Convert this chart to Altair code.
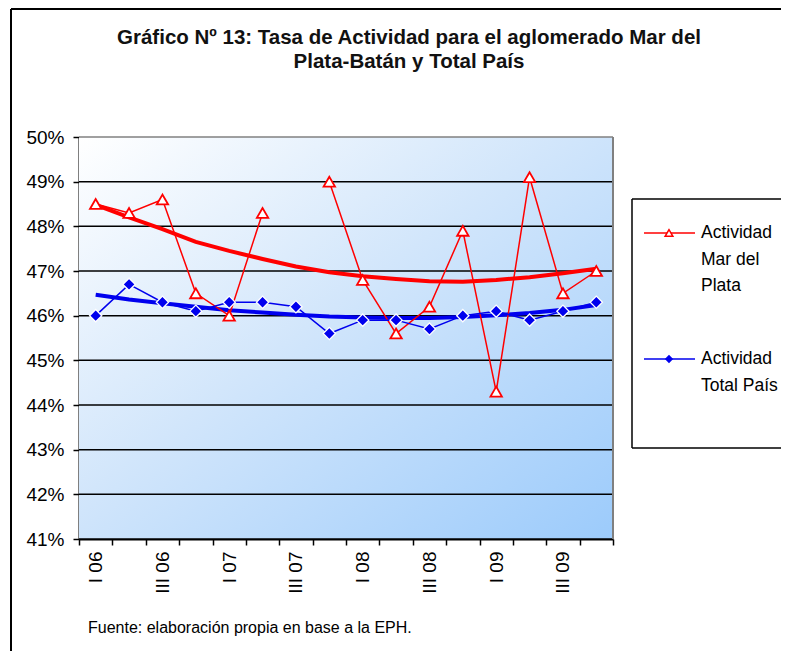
import altair as alt
import pandas as pd

# ---------------- data ----------------
quarters = ["I 06", "II 06", "III 06", "IV 06",
            "I 07", "II 07", "III 07", "IV 07",
            "I 08", "II 08", "III 08", "IV 08",
            "I 09", "II 09", "III 09", "IV 09"]
mdp = [48.5, 48.3, 48.6, 46.5, 46.0, 48.3, None, 49.0,
       46.8, 45.6, 46.2, 47.9, 44.3, 49.1, 46.5, 47.0]
pais = [46.0, 46.7, 46.3, 46.1, 46.3, 46.3, 46.2, 45.6,
        45.9, 45.9, 45.7, 46.0, 46.1, 45.9, 46.1, 46.3]
mdp_trend = [48.48, 48.20, 47.94, 47.65, 47.45, 47.27, 47.10, 46.97,
             46.88, 46.82, 46.77, 46.76, 46.80, 46.86, 46.95, 47.05]
pais_trend = [46.47, 46.36, 46.28, 46.20, 46.12, 46.07, 46.02, 45.98,
              45.96, 45.95, 45.95, 45.97, 46.01, 46.06, 46.13, 46.24]
y_ticks = [41, 42, 43, 44, 45, 46, 47, 48, 49, 50]

series_names = ["Actividad Mar del Plata", "Actividad Total País"]
title_lines = ["Gráfico Nº 13: Tasa de Actividad para el aglomerado Mar del",
               "Plata-Batán y Total País"]
legend_red = ["Actividad", "Mar del", "Plata"]
legend_blue = ["Actividad", "Total País"]
source_note = "Fuente: elaboración propia en base a la EPH."

# ---------------- tables ----------------
rows = []
seg = 0
for q, v in zip(quarters, mdp):
    if v is None:
        seg += 1
        continue
    rows.append({"q": q, "v": v, "s": series_names[0], "seg": seg})
for q, v in zip(quarters, pais):
    rows.append({"q": q, "v": v, "s": series_names[1], "seg": 0})
df = pd.DataFrame(rows)

trend = pd.DataFrame(
    [{"q": q, "v": v, "s": series_names[0]} for q, v in zip(quarters, mdp_trend)]
    + [{"q": q, "v": v, "s": series_names[1]} for q, v in zip(quarters, pais_trend)]
)
grid = pd.DataFrame({"v": y_ticks})
one = pd.DataFrame({"a": [0]})

W, H = 534, 402
FONT = "Liberation Sans"
RED = "#ff0000"
BLUE = "#0000ee"

color_scale = alt.Scale(domain=series_names, range=[RED, BLUE])
yscale = alt.Scale(domain=[41, 50], nice=False, zero=False)
xscale = alt.Scale(type="band", domain=quarters, paddingInner=0, paddingOuter=0)

x_enc = alt.X(
    "q:N", scale=xscale, bandPosition=0.5,
    axis=alt.Axis(
        title=None, labelAngle=270, labelAlign="right", labelBaseline="middle",
        labelFont=FONT, labelFontSize=19, labelColor="black", labelPadding=6,
        tickSize=6, tickColor="black", tickWidth=1.5, tickBand="extent",
        domainColor="black", domainWidth=2, grid=False,
        labelExpr="(indexof(datum.label, 'I ') == 0 || indexof(datum.label, 'III ') == 0) ? datum.label : ''",
    ),
)
y_enc = alt.Y(
    "v:Q", scale=yscale,
    axis=alt.Axis(
        title=None, values=y_ticks, labelExpr="datum.value + '%'",
        labelFont=FONT, labelFontSize=19, labelColor="black", labelPadding=9,
        tickSize=6, tickColor="black", tickWidth=1.5,
        domainColor="black", domainWidth=2, grid=False,
    ),
)

gradient = alt.LinearGradient(
    gradient="linear",
    stops=[alt.GradientStop(color="#ffffff", offset=0),
           alt.GradientStop(color="#d2e6fb", offset=0.45),
           alt.GradientStop(color="#9ccbfb", offset=1)],
    x1=0, y1=0, x2=1, y2=1,
)

bg = alt.Chart(one).mark_rect(fill=gradient).encode(
    x=alt.value(0), x2=alt.value(W), y=alt.value(0), y2=alt.value(H)
)

grid_rules = alt.Chart(grid).mark_rule(strokeWidth=1.5).encode(
    y=y_enc,
    color=alt.condition("datum.v == 50", alt.value("#808080"), alt.value("black")),
)

right_border = alt.Chart(one).mark_rule(color="#808080", strokeWidth=2).encode(
    x=alt.value(W), y=alt.value(0), y2=alt.value(H)
)

trend_lines = alt.Chart(trend).mark_line(strokeWidth=4).encode(
    x=x_enc, y=y_enc,
    color=alt.Color("s:N", scale=color_scale, legend=None),
)

data_lines = alt.Chart(df).mark_line(strokeWidth=1.5).encode(
    x=x_enc, y=y_enc,
    color=alt.Color("s:N", scale=color_scale, legend=None),
    detail="seg:N",
)

red_pts = alt.Chart(df).transform_filter(
    alt.datum.s == series_names[0]
).mark_point(shape="triangle-up", filled=True, fill="white", stroke=RED,
             strokeWidth=1.8, size=130, opacity=1).encode(x=x_enc, y=y_enc)

blue_pts = alt.Chart(df).transform_filter(
    alt.datum.s == series_names[1]
).mark_point(shape="diamond", filled=True, fill=BLUE, stroke="white",
             strokeWidth=1.3, size=150, opacity=1).encode(x=x_enc, y=y_enc)

# ---------------- decorations ----------------
def hrule(x1, x2, y, color="black", sw=2):
    return alt.Chart(one).mark_rule(color=color, strokeWidth=sw).encode(
        x=alt.value(x1), x2=alt.value(x2), y=alt.value(y))

def vrule(x, y1, y2, color="black", sw=2):
    return alt.Chart(one).mark_rule(color=color, strokeWidth=sw).encode(
        x=alt.value(x), y=alt.value(y1), y2=alt.value(y2))

frame = [hrule(-68, 720, -128), vrule(-68, -128, 520)]

title_layers = [
    alt.Chart(one).mark_text(text=t, font=FONT, fontSize=20.5, fontWeight="bold",
                             align="center", baseline="middle", color="#111111").encode(
        x=alt.value(330), y=alt.value(yy))
    for t, yy in zip(title_lines, [-99, -75])
]

legend_box = alt.Chart(one).mark_rect(fill="white").encode(
    x=alt.value(553), x2=alt.value(720), y=alt.value(62), y2=alt.value(311)
)
legend_edges = [hrule(553, 720, 62, sw=1.5), hrule(553, 720, 311, sw=1.5),
                vrule(553, 62, 311, sw=1.5)]
leg_red_line = hrule(565, 616, 96, color=RED, sw=1.5)
leg_red_pt = alt.Chart(one).mark_point(shape="triangle-up", filled=True, fill="white",
                                       stroke=RED, strokeWidth=1.5, size=60, opacity=1).encode(
    x=alt.value(590), y=alt.value(96)
)
leg_blue_line = hrule(565, 616, 222, color=BLUE, sw=1.5)
leg_blue_pt = alt.Chart(one).mark_point(shape="diamond", filled=True, fill=BLUE,
                                        stroke=BLUE, size=30, opacity=1).encode(
    x=alt.value(590), y=alt.value(222)
)
leg_texts = [
    alt.Chart(one).mark_text(text=t, font=FONT, fontSize=17.5, align="left",
                             baseline="middle", color="black").encode(
        x=alt.value(622), y=alt.value(yy))
    for t, yy in list(zip(legend_red, [96, 123, 149])) + list(zip(legend_blue, [222, 249]))
]

note = alt.Chart(one).mark_text(text=source_note, font=FONT, fontSize=16, align="left",
                                baseline="alphabetic", color="black").encode(
    x=alt.value(9), y=alt.value(496)
)

chart = alt.layer(
    bg, grid_rules, right_border, trend_lines, data_lines, red_pts, blue_pts,
    *frame, legend_box, *legend_edges, leg_red_line, leg_red_pt, leg_blue_line, leg_blue_pt,
    *leg_texts, *title_layers, note,
).properties(
    width=W, height=H,
    autosize=alt.AutoSizeParams(type="none"),
    padding={"left": 71, "top": 129, "right": 168, "bottom": 112},
).configure_view(stroke=None).configure(background="white")

chart.save("out.html", embed_options={"renderer": "svg", "actions": False})
